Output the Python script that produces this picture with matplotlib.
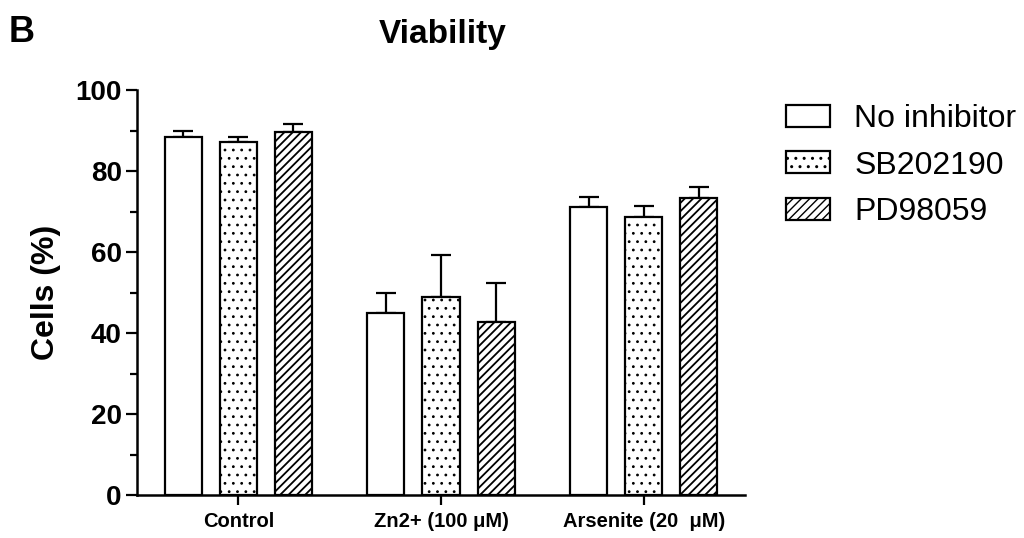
import matplotlib
matplotlib.use("Agg")
import matplotlib.pyplot as plt
import numpy as np

plt.rcParams['font.family'] = ['Liberation Sans', 'DejaVu Sans']

categories = ["Control", "Zn2+ (100 \u03bcM)", "Arsenite (20  \u03bcM)"]
series = ["No inhibitor", "SB202190", "PD98059"]
no_inhibitor = [88.5, 45.0, 71.0]
sb202190 = [87.1, 49.0, 68.7]
pd98059 = [89.6, 42.7, 73.4]
no_inhibitor_err = [1.4, 4.8, 2.5]
sb202190_err = [1.4, 10.3, 2.7]
pd98059_err = [2.1, 9.6, 2.7]
hatches = ["", "..", "////"]
hatch_lw = [1.0, 0.8, 1.3]
yticks = [0, 20, 40, 60, 80, 100]

values = [no_inhibitor, sb202190, pd98059]
errors = [no_inhibitor_err, sb202190_err, pd98059_err]

fig = plt.figure(figsize=(10.24, 5.38), dpi=100)
ax = fig.add_axes([137/1024, 43/538, (745-137)/1024, (495-90)/538])

x = np.arange(len(categories))
spacing = 0.272
width = 0.183
for i, (vals, errs, h, name) in enumerate(zip(values, errors, hatches, series)):
    pos = x + (i - 1) * spacing
    ax.errorbar(pos, vals, yerr=[np.zeros(len(errs)), errs], fmt='none',
                ecolor='black', elinewidth=1.6, capsize=7, capthick=1.6, zorder=1)
    with plt.rc_context({'hatch.linewidth': hatch_lw[i]}):
        ax.bar(pos, vals, width=width, facecolor='white', edgecolor='black',
               linewidth=1.6, hatch=h, label=name, zorder=2)

ax.set_xlim(-0.5, 2.5)
ax.set_ylim(0, 100)
ax.set_xticks(x)
ax.set_xticklabels(categories, fontsize=14.5, fontweight='bold')
ax.set_yticks(yticks)
ax.set_yticklabels([str(t) for t in yticks], fontsize=20, fontweight='bold')
ax.set_yticks([10, 30, 50, 70, 90], minor=True)
ax.tick_params(axis='y', which='major', length=8, width=1.6, direction='out', pad=3)
ax.tick_params(axis='y', which='minor', length=5, width=1.6, direction='out')
ax.tick_params(axis='x', which='major', length=7, width=1.6, direction='out', pad=5)
for s in ['top', 'right']:
    ax.spines[s].set_visible(False)
for s in ['left', 'bottom']:
    ax.spines[s].set_linewidth(1.8)

ax.set_ylabel("Cells (%)", fontsize=23, fontweight='bold', labelpad=10)
fig.text(443/1024, 1 - 43/538, "Viability", fontsize=24, fontweight='bold',
         ha='center', va='baseline')
fig.text(9/1024, 1 - 42/538, "B", fontsize=26, fontweight='bold', ha='left', va='baseline')

leg = fig.legend(loc='upper left', bbox_to_anchor=(786/1024, 1 - 104/538),
                 frameon=False, fontsize=23, handlelength=1.38, handleheight=0.69,
                 handletextpad=0.75, labelspacing=0.52, borderpad=0, borderaxespad=0)

fig.savefig("out.png", dpi=100)
